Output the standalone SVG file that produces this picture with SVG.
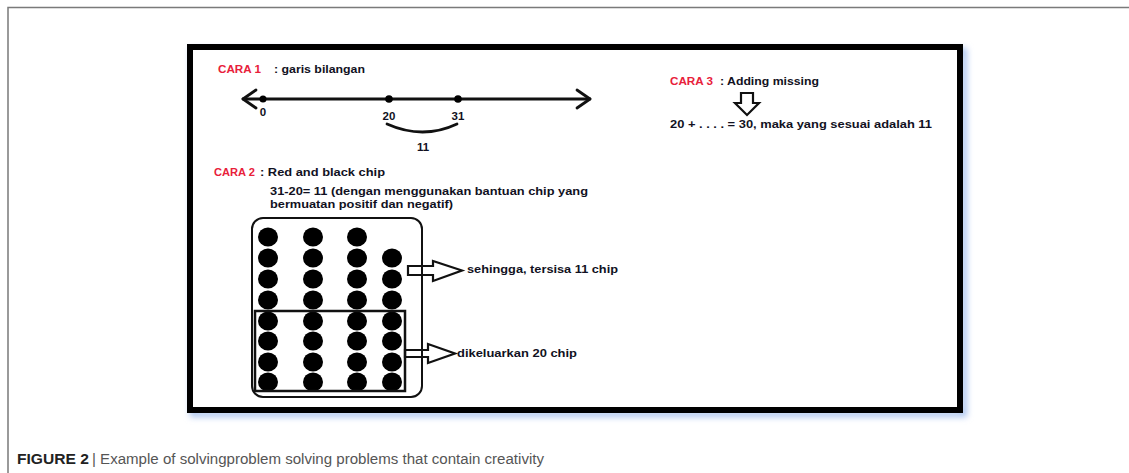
<svg xmlns="http://www.w3.org/2000/svg" width="1129" height="473" viewBox="0 0 1129 473">
<defs>
<style>
.t{font-family:"Liberation Sans",Arial,sans-serif;font-weight:bold;font-size:10px;fill:#111122}
.r{fill:#e8203a}
.n{font-family:"Liberation Sans",Arial,sans-serif;font-weight:bold;font-size:11.5px;fill:#111122;text-anchor:middle}
.ln{stroke:#111;stroke-width:2.8;fill:none;stroke-linecap:round;stroke-linejoin:round}
.chip{fill:#000}
.blk{fill:#fff;stroke:#111;stroke-width:2.2;stroke-linejoin:miter}
.cap{font-family:"Liberation Sans",Arial,sans-serif;font-size:14px}
</style>
<filter id="glow" x="-5%" y="-5%" width="110%" height="110%"><feGaussianBlur stdDeviation="3"/></filter>
</defs>
<rect width="1129" height="473" fill="#fff"/>
<path d="M8 473 V7.5 H1129" fill="none" stroke="#7a7a7a" stroke-width="1.5"/>
<g id="frame">
<rect x="193" y="51" width="771" height="363" fill="none" stroke="#a9c3ee" stroke-width="6" filter="url(#glow)"/>
<rect x="190" y="47" width="770" height="363" fill="#fff" stroke="#000" stroke-width="6"/>
</g>
<g id="cara1">
<text class="t r" x="218" y="73" textLength="43" lengthAdjust="spacingAndGlyphs">CARA 1</text>
<text class="t" x="274" y="73" textLength="91" lengthAdjust="spacingAndGlyphs">: garis bilangan</text>
<line class="ln" x1="243" y1="99" x2="590" y2="99"/>
<polyline class="ln" points="256,90 243,99 256,108"/>
<polyline class="ln" points="577,90 590,99 577,108"/>
<circle cx="263" cy="99" r="3.5" fill="#000"/>
<circle cx="389" cy="99" r="3.8" fill="#000"/>
<circle cx="458" cy="99" r="3.8" fill="#000"/>
<text class="n" x="263" y="116">0</text>
<text class="n" x="389" y="120">20</text>
<text class="n" x="458" y="120">31</text>
<path class="ln" d="M387 124 Q423 140 457 124"/>
<text class="n" x="423" y="151">11</text>
</g>
<g id="cara3">
<text class="t r" x="670" y="85" textLength="43" lengthAdjust="spacingAndGlyphs">CARA 3</text>
<text class="t" x="720" y="85" textLength="99" lengthAdjust="spacingAndGlyphs">: Adding missing</text>
<polygon class="blk" stroke-width="2.5" points="741,93 753,93 753,103 759,103 747,115 735,103 741,103"/>
<text class="t" x="670" y="128" textLength="262" lengthAdjust="spacingAndGlyphs">20 + . . . . = 30, maka yang sesuai adalah 11</text>
</g>
<g id="cara2">
<text class="t r" x="214" y="176" textLength="41" lengthAdjust="spacingAndGlyphs">CARA 2</text>
<text class="t" x="260" y="176" textLength="125" lengthAdjust="spacingAndGlyphs">: Red and black chip</text>
<text class="t" x="270" y="195" textLength="318" lengthAdjust="spacingAndGlyphs">31-20= 11 (dengan menggunakan bantuan chip yang</text>
<text class="t" x="270" y="208" textLength="183" lengthAdjust="spacingAndGlyphs">bermuatan positif dan negatif)</text>
</g>
<g id="arrows">
<polygon class="blk" points="408,266 433,266 433,261 462,270.5 433,281 433,275 408,275"/>
<polygon class="blk" points="405,350 428,350 428,344 455,353.5 428,363 428,357 405,357"/>
</g>
<g id="chips">
<g class="chip">
<ellipse cx="268" cy="237" rx="10" ry="9.5"/><ellipse cx="313" cy="237" rx="10" ry="9.5"/><ellipse cx="357" cy="237" rx="10" ry="9.5"/>
<ellipse cx="268" cy="258" rx="10" ry="9.5"/><ellipse cx="313" cy="258" rx="10" ry="9.5"/><ellipse cx="357" cy="258" rx="10" ry="9.5"/><ellipse cx="392" cy="258" rx="10" ry="9.5"/>
<ellipse cx="268" cy="279" rx="10" ry="9.5"/><ellipse cx="313" cy="279" rx="10" ry="9.5"/><ellipse cx="357" cy="279" rx="10" ry="9.5"/><ellipse cx="392" cy="279" rx="10" ry="9.5"/>
<ellipse cx="268" cy="300" rx="10" ry="9.5"/><ellipse cx="313" cy="300" rx="10" ry="9.5"/><ellipse cx="357" cy="300" rx="10" ry="9.5"/><ellipse cx="392" cy="300" rx="10" ry="9.5"/>
<ellipse cx="268" cy="321" rx="10" ry="9.5"/><ellipse cx="313" cy="321" rx="10" ry="9.5"/><ellipse cx="357" cy="321" rx="10" ry="9.5"/><ellipse cx="392" cy="321" rx="10" ry="9.5"/>
<ellipse cx="268" cy="341" rx="10" ry="9.5"/><ellipse cx="313" cy="341" rx="10" ry="9.5"/><ellipse cx="357" cy="341" rx="10" ry="9.5"/><ellipse cx="392" cy="341" rx="10" ry="9.5"/>
<ellipse cx="268" cy="362" rx="10" ry="9.5"/><ellipse cx="313" cy="362" rx="10" ry="9.5"/><ellipse cx="357" cy="362" rx="10" ry="9.5"/><ellipse cx="392" cy="362" rx="10" ry="9.5"/>
<ellipse cx="268" cy="382" rx="10" ry="9.5"/><ellipse cx="313" cy="382" rx="10" ry="9.5"/><ellipse cx="357" cy="382" rx="10" ry="9.5"/><ellipse cx="392" cy="382" rx="10" ry="9.5"/>
</g>
<rect x="255" y="311" width="150" height="80" fill="none" stroke="#111" stroke-width="2.5"/>
<rect x="252" y="218" width="170" height="179" rx="11" fill="none" stroke="#111" stroke-width="2"/>
</g>
<g id="labels">
<text class="t" x="467" y="273" textLength="151" lengthAdjust="spacingAndGlyphs">sehingga, tersisa 11 chip</text>
<text class="t" x="457" y="357" textLength="120" lengthAdjust="spacingAndGlyphs">dikeluarkan 20 chip</text>
</g>
<g id="caption">
<text class="cap" x="17" y="464" font-weight="bold" fill="#222" textLength="72" lengthAdjust="spacingAndGlyphs">FIGURE 2</text>
<text class="cap" x="92" y="464" fill="#555" textLength="452" lengthAdjust="spacingAndGlyphs">| Example of solvingproblem solving problems that contain creativity</text>
</g>
</svg>
